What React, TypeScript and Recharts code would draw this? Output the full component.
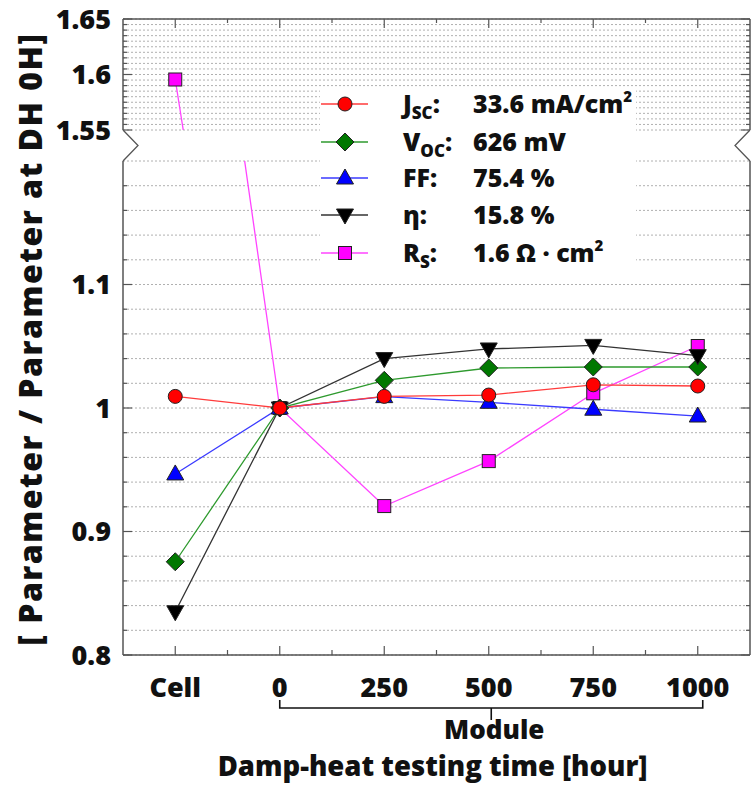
import React from 'react';
import { LineChart, Line, XAxis, YAxis, CartesianGrid, ReferenceLine } from 'recharts';

// ---------- data ----------
const categories = ['Cell', '0', '250', '500', '750', '1000'];
const jscValues = [1.0094, 1.0, 1.0094, 1.0105, 1.0188, 1.0178];
const vocValues = [0.8755, 1.0, 1.0224, 1.0324, 1.0332, 1.0332];
const ffValues = [0.9466, 1.0, 1.0092, 1.0046, 0.999, 0.9935];
const etaValues = [0.835, 1.0, 1.04, 1.0478, 1.0507, 1.0424];
const rsValues = [1.5955, 1.0, 0.9206, 0.957, 1.0119, 1.0502];

const upperTicks = [1.55, 1.555, 1.56, 1.565, 1.57, 1.575, 1.58, 1.585, 1.59, 1.595, 1.6, 1.605, 1.61, 1.615, 1.62, 1.625, 1.63, 1.635, 1.64, 1.645, 1.65];
const upperLabels = ['1.55', '1.6', '1.65'];
const lowerTicks = [0.8, 0.82, 0.84, 0.86, 0.88, 0.9, 0.92, 0.94, 0.96, 0.98, 1.0, 1.02, 1.04, 1.06, 1.08, 1.1, 1.12, 1.14, 1.16, 1.18];
const lowerLabels = ['0.8', '0.9', '1', '1.1'];
const xTicks = [0, 0.5, 1, 1.5, 2, 2.5, 3, 3.5, 4, 4.5, 5];

const yAxisTitle = '[ Parameter / Parameter at DH 0H]';
const xAxisTitle = 'Damp-heat testing time [hour]';
const groupTitle = 'Module';

const data = categories.map((cat, i) => ({
  idx: i,
  cat,
  jsc: jscValues[i],
  voc: vocValues[i],
  ff: ffValues[i],
  eta: etaValues[i],
  rs: rsValues[i],
}));

// ---------- layout ----------
const W = 751;
const H = 789;
const PL = 123;
const PR = 750;
const UP_TOP = 19;
const UP_BOTTOM = 130;
const LO_TOP = 161;
const LO_BOTTOM = 655;
const STEP = (PR - PL) / 6;
const FONT = '"Open Sans", Lato, sans-serif';
const FW = 800;
const AXIS = '#555';

type MarkerKind = 'circle' | 'diamond' | 'up' | 'down' | 'square';

const series: { key: string; color: string; fill: string; marker: MarkerKind }[] = [
  { key: 'rs', color: '#ff44ff', fill: '#ff00ff', marker: 'square' },
  { key: 'ff', color: '#3a3aff', fill: '#0000ff', marker: 'up' },
  { key: 'voc', color: '#2e9a2e', fill: '#007800', marker: 'diamond' },
  { key: 'eta', color: '#333333', fill: '#000000', marker: 'down' },
  { key: 'jsc', color: '#ff3b3b', fill: '#ff0000', marker: 'circle' },
];

const Marker = ({ cx, cy, kind, fill }: { cx: number; cy: number; kind: MarkerKind; fill: string }) => {
  if (cx == null || cy == null || isNaN(cx) || isNaN(cy)) return <g />;
  const st = { fill, stroke: '#222', strokeWidth: 1 };
  switch (kind) {
    case 'circle':
      return <circle cx={cx} cy={cy} r={7} {...st} />;
    case 'diamond':
      return <polygon points={`${cx},${cy - 9} ${cx + 9},${cy} ${cx},${cy + 9} ${cx - 9},${cy}`} {...st} />;
    case 'up':
      return <polygon points={`${cx},${cy - 9} ${cx + 8.5},${cy + 6} ${cx - 8.5},${cy + 6}`} {...st} />;
    case 'down':
      return <polygon points={`${cx - 8.5},${cy - 6} ${cx + 8.5},${cy - 6} ${cx},${cy + 9}`} {...st} />;
    default:
      return <rect x={cx - 6.5} y={cy - 6.5} width={13} height={13} {...st} />;
  }
};

const makeYTick = (labels: string[], digits: number) => (props: any) => {
  const { y, payload } = props;
  const label = String(Number(Number(payload.value).toFixed(digits)));
  const major = labels.includes(label);
  const len = major ? 9 : 4;
  return (
    <g>
      <line x1={PL} x2={PL + len} y1={y} y2={y} stroke={AXIS} strokeWidth={1.2} />
      <line x1={PR} x2={PR - len} y1={y} y2={y} stroke={AXIS} strokeWidth={1.2} />
      {major && (
        <text x={PL - 12} y={y} dy="0.36em" textAnchor="end" fontFamily={FONT} fontWeight={FW} fontSize={27} fill="#111">
          {label}
        </text>
      )}
    </g>
  );
};

const TopTick = (props: any) => {
  const { x, payload } = props;
  const major = Number.isInteger(payload.value);
  const len = major ? 9 : 4;
  return (
    <g>
      <line x1={x} x2={x} y1={UP_TOP} y2={UP_TOP + len} stroke={AXIS} strokeWidth={1.2} />
    </g>
  );
};

const BottomTick = (props: any) => {
  const { x, payload } = props;
  const v = payload.value;
  const major = Number.isInteger(v);
  const len = major ? 9 : 5;
  return (
    <g>
      <line x1={x} x2={x} y1={LO_BOTTOM} y2={LO_BOTTOM - len} stroke={AXIS} strokeWidth={1.2} />
      {major && (
        <text x={x} y={LO_BOTTOM + 42} textAnchor="middle" fontFamily={FONT} fontWeight={FW} fontSize={27} fill="#111">
          {categories[v]}
        </text>
      )}
    </g>
  );
};

const renderLines = () =>
  series.map((s) => (
    <Line
      key={s.key}
      type="linear"
      dataKey={s.key}
      stroke={s.color}
      strokeWidth={1.3}
      isAnimationActive={false}
      dot={(p: any) => <Marker key={`${s.key}-${p.index}`} cx={p.cx} cy={p.cy} kind={s.marker} fill={s.fill} />}
      activeDot={false}
    />
  ));

const Sub = ({ base, sub }: { base: string; sub: string }) => (
  <>
    {base}
    <tspan fontSize={17} dy={6}>{sub}</tspan>
    <tspan dy={-6}>:</tspan>
  </>
);

const legendRows: { key: string; label: React.ReactNode; value: React.ReactNode }[] = [
  { key: 'jsc', label: <Sub base="J" sub="SC" />, value: <>33.6 mA/cm<tspan fontSize={15} dy={-11}>2</tspan></> },
  { key: 'voc', label: <Sub base="V" sub="OC" />, value: <>626 mV</> },
  { key: 'ff', label: <>FF:</>, value: <>75.4 %</> },
  { key: 'eta', label: <>η:</>, value: <>15.8 %</> },
  { key: 'rs', label: <Sub base="R" sub="S" />, value: <>1.6 Ω · cm<tspan fontSize={15} dy={-11}>2</tspan></> },
];

const Legend = () => {
  const rowY = [16, 54, 90, 127, 165];
  return (
    <div style={{ position: 'absolute', left: 320, top: 88, width: 316, height: 184, background: '#fff' }}>
      <svg width={316} height={184} style={{ overflow: 'visible' }}>
        {legendRows.map((r, i) => {
          const s = series.find((q) => q.key === r.key)!;
          const y = rowY[i];
          return (
            <g key={r.key}>
              <line x1={1} x2={48} y1={y} y2={y} stroke={s.color} strokeWidth={1.3} />
              <Marker cx={25} cy={y} kind={s.marker} fill={s.fill} />
              <text x={83} y={y + 9} fontFamily={FONT} fontWeight={FW} fontSize={25} fill="#111">{r.label}</text>
              <text x={153} y={y + 9} fontFamily={FONT} fontWeight={FW} fontSize={25} fill="#111">{r.value}</text>
            </g>
          );
        })}
      </svg>
    </div>
  );
};

const xc = (i: number) => PL + (i + 0.5) * STEP;

export default function App() {
  const bracketL = xc(1);
  const bracketR = xc(5) + 5;
  const bracketC = (bracketL + bracketR) / 2;
  return (
    <div style={{ position: 'absolute', left: 0, top: 0, width: W, height: H, background: '#fff', overflow: 'hidden' }}>
      {/* lower panel */}
      <div style={{ position: 'absolute', left: 0, top: 0 }}>
        <LineChart width={W} height={H} data={data} margin={{ top: LO_TOP, right: W - PR, left: 0, bottom: H - LO_BOTTOM - 1 }}>
          <CartesianGrid vertical={false} stroke="#b0b0b0" strokeDasharray="2 2" />
          <XAxis
            type="number"
            dataKey="idx"
            domain={[-0.5, 5.5]}
            ticks={xTicks}
            interval={0}
            allowDataOverflow
            height={1}
            tickSize={0}
            tickMargin={0}
            tickLine={false}
            axisLine={{ stroke: AXIS, strokeWidth: 1.5 }}
            tick={BottomTick}
          />
          <YAxis
            type="number"
            domain={[0.8, 1.2]}
            ticks={lowerTicks}
            interval={0}
            allowDataOverflow
            width={PL}
            tickSize={0}
            tickMargin={12}
            tickLine={false}
            axisLine={{ stroke: AXIS, strokeWidth: 1.5 }}
            tick={makeYTick(lowerLabels, 2)}
          />
          <ReferenceLine x={5.5} stroke={AXIS} strokeWidth={1.5} />
          {renderLines()}
        </LineChart>
      </div>
      {/* upper panel */}
      <div style={{ position: 'absolute', left: 0, top: 0 }}>
        <LineChart width={W} height={UP_BOTTOM + 30} data={data} margin={{ top: UP_TOP - 1, right: W - PR, left: 0, bottom: 30 }}>
          <CartesianGrid vertical={false} stroke="#b0b0b0" strokeDasharray="2 2" />
          <XAxis
            type="number"
            dataKey="idx"
            orientation="top"
            domain={[-0.5, 5.5]}
            ticks={xTicks}
            interval={0}
            allowDataOverflow
            height={1}
            tickSize={0}
            tickMargin={0}
            tickLine={false}
            axisLine={{ stroke: AXIS, strokeWidth: 1.5 }}
            tick={TopTick}
          />
          <YAxis
            type="number"
            domain={[1.55, 1.65]}
            ticks={upperTicks}
            interval={0}
            allowDataOverflow
            width={PL}
            tickSize={0}
            tickMargin={12}
            tickLine={false}
            axisLine={{ stroke: AXIS, strokeWidth: 1.5 }}
            tick={makeYTick(upperLabels, 3)}
          />
          <ReferenceLine x={5.5} stroke={AXIS} strokeWidth={1.5} />
          {renderLines()}
        </LineChart>
      </div>
      {/* decorations: axis break, bracket, titles */}
      <svg width={W} height={H} style={{ position: 'absolute', left: 0, top: 0, pointerEvents: 'none' }}>
        <polyline points={`${PL},${UP_BOTTOM} ${PL + 15},${(UP_BOTTOM + LO_TOP) / 2} ${PL},${LO_TOP}`} fill="none" stroke={AXIS} strokeWidth={1.3} />
        <polyline points={`${PR},${UP_BOTTOM} ${PR - 15},${(UP_BOTTOM + LO_TOP) / 2} ${PR},${LO_TOP}`} fill="none" stroke={AXIS} strokeWidth={1.3} />
        <polyline
          points={`${bracketL},${700} ${bracketL},${708} ${bracketR},${708} ${bracketR},${700}`}
          fill="none"
          stroke="#111"
          strokeWidth={1.6}
        />
        <line x1={bracketC} x2={bracketC} y1={708} y2={720} stroke="#111" strokeWidth={1.6} />
        <text x={bracketC + 3} y={739} textAnchor="middle" fontFamily={FONT} fontWeight={FW} fontSize={26} fill="#111">
          {groupTitle}
        </text>
        <text x={(PL + PR) / 2 - 4} y={776} textAnchor="middle" fontFamily={FONT} fontWeight={FW} fontSize={27.5} fill="#111">
          {xAxisTitle}
        </text>
        <text
          x={0}
          y={0}
          transform={`translate(42, 339) rotate(-90)`}
          textAnchor="middle"
          fontFamily={FONT}
          fontWeight={FW}
          fontSize={32}
          letterSpacing={1.5}
          fill="#111"
        >
          {yAxisTitle}
        </text>
      </svg>
      <Legend />
    </div>
  );
}
